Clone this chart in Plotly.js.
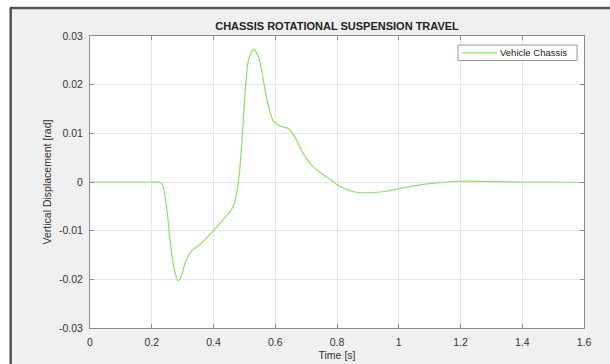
<!DOCTYPE html>
<html>
<head>
<meta charset="utf-8">
<script src="https://cdn.plot.ly/plotly-3.0.1.min.js"></script>
<style>html,body{margin:0;padding:0;background:#fff;}#chart{width:610px;height:364px;}</style>
</head>
<body>
<div id="chart"></div>
<script>
// Data
const timeS = [0, 0.1, 0.2, 0.225, 0.235, 0.25, 0.262, 0.275, 0.286, 0.298, 0.308, 0.324, 0.335, 0.351, 0.373, 0.400, 0.432, 0.462, 0.475, 0.484, 0.494, 0.504, 0.513, 0.529, 0.545, 0.561, 0.578, 0.594, 0.615, 0.642, 0.659, 0.680, 0.702, 0.723, 0.740, 0.760, 0.780, 0.800, 0.826, 0.853, 0.907, 0.961, 1.015, 1.069, 1.123, 1.177, 1.231, 1.285, 1.339, 1.40, 1.50, 1.60];
const chassisRad = [0, 0, 0, 0, -0.0006, -0.0063, -0.0135, -0.0185, -0.0203, -0.0190, -0.0166, -0.0146, -0.0138, -0.0131, -0.0118, -0.0100, -0.0077, -0.0053, -0.0022, 0.0019, 0.0101, 0.0197, 0.0249, 0.0272, 0.0259, 0.0211, 0.0156, 0.0125, 0.0115, 0.0110, 0.0098, 0.0071, 0.0047, 0.0031, 0.0022, 0.0013, 0.0004, -0.0005, -0.0014, -0.0020, -0.0022, -0.0019, -0.0012, -0.0006, -0.0002, 0.0001, 0.0002, 0.0001, 0.00005, 0, 0, -0.0001];
const seriesName = 'Vehicle Chassis';
const xTicks = [0, 0.2, 0.4, 0.6, 0.8, 1, 1.2, 1.4, 1.6];
const yTicks = [-0.03, -0.02, -0.01, 0, 0.01, 0.02, 0.03];
const yTickText = ['-0.03', '-0.02', '-0.01', '0', '0.01', '0.02', '0.03'];

const font = 'Liberation Sans, Arial, sans-serif';
const lineColor = 'rgb(140,226,100)';
const axisCommon = {
  showgrid: true, gridcolor: '#e6e6e6', gridwidth: 1,
  zeroline: false, showline: true, linecolor: '#8c8c8c', linewidth: 1,
  mirror: 'ticks', ticks: 'inside', ticklen: 4, tickcolor: '#8c8c8c',
  tickfont: {family: font, size: 10.5, color: '#333333'}, ticklabelstandoff: 4
};

const trace = {
  x: timeS, y: chassisRad, type: 'scatter', mode: 'lines', name: seriesName,
  line: {color: lineColor, width: 1.2, shape: 'spline', smoothing: 0.8}
};

const layout = {
  width: 610, height: 364,
  paper_bgcolor: '#f0f0f0', plot_bgcolor: '#ffffff',
  margin: {l: 90, r: 26, t: 36, b: 36},
  title: {text: '<b>CHASSIS ROTATIONAL SUSPENSION TRAVEL</b>', font: {family: font, size: 11, color: '#222'}, x: 0.5525, xanchor: 'center', y: 0.927, yanchor: 'middle'},
  xaxis: Object.assign({}, axisCommon, {range: [0, 1.6], tickvals: xTicks, ticktext: xTicks.map(String),
    title: {text: 'Time [s]', font: {family: font, size: 10.5, color: '#333'}, standoff: 5}}),
  yaxis: Object.assign({}, axisCommon, {range: [-0.03, 0.03], tickvals: yTicks, ticktext: yTickText,
    title: {text: 'Vertical Displacement [rad]', font: {family: font, size: 10.5, color: '#333'}, standoff: 5}}),
  showlegend: false,
  shapes: [
    {type: 'rect', xref: 'paper', yref: 'paper', x0: -0.19, x1: -0.164, y0: -0.2, y1: 1.2, fillcolor: '#ffffff', line: {width: 0}, layer: 'below'},
    {type: 'rect', xref: 'paper', yref: 'paper', x0: -0.19, x1: 1.1, y0: 1.097, y1: 1.2, fillcolor: '#ffffff', line: {width: 0}, layer: 'below'},
    {type: 'line', xref: 'paper', yref: 'paper', x0: -0.1605, x1: -0.1605, y0: -0.2, y1: 1.0955, line: {color: '#555', width: 2.5}, layer: 'below'},
    {type: 'line', xref: 'paper', yref: 'paper', x0: -0.1625, x1: 1.1, y0: 1.0955, y1: 1.0955, line: {color: '#555', width: 2.5}, layer: 'below'},
    // legend box
    {type: 'rect', xref: 'paper', yref: 'paper', x0: 0.745, x1: 0.986, y0: 0.916, y1: 0.969, fillcolor: '#ffffff', line: {color: '#9a9a9a', width: 1}, layer: 'above'},
    {type: 'line', xref: 'paper', yref: 'paper', x0: 0.753, x1: 0.824, y0: 0.9425, y1: 0.9425, line: {color: lineColor, width: 1.2}, layer: 'above'}
  ],
  annotations: [
    {text: seriesName, xref: 'paper', yref: 'paper', x: 0.826, y: 0.9425, xanchor: 'left', yanchor: 'middle', showarrow: false,
     font: {family: font, size: 9.5, color: '#222'}}
  ]
};

Plotly.newPlot('chart', [trace], layout, {staticPlot: true, displayModeBar: false});
</script>
</body>
</html>
